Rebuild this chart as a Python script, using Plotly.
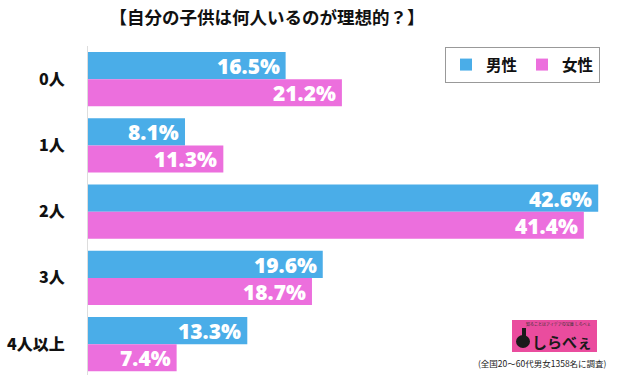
import plotly.graph_objects as go

categories = ["0人", "1人", "2人", "3人", "4人以上"]
male = [16.5, 8.1, 42.6, 19.6, 13.3]
female = [21.2, 11.3, 41.4, 18.7, 7.4]
series_names = ["男性", "女性"]
title_text = "【自分の子供は何人いるのが理想的？】"
source_text = "(全国20～60代男女1358名に調査)"

BLUE = "#4AADE8"
PINK = "#EC6FDD"
FONT = "Noto Sans CJK JP"
NUMFONT = "Open Sans"

L, R, T, B = 88, 12, 46, 0
W, H = 621, 375
PW, PH = W - L - R, H - T - B

def px(x):
    return (x - L) / PW

def py(y):
    return (H - B - y) / PH

fig = go.Figure()
for name, vals, col in [(series_names[0], male, BLUE), (series_names[1], female, PINK)]:
    fig.add_trace(go.Bar(
        y=categories, x=vals, name=name, orientation="h",
        marker=dict(color=col, line=dict(width=0)),
        textposition="none", hoverinfo="x+name",
    ))

# value labels (white, inside bar ends)
for vals, shift in [(male, 13), (female, -14)]:
    for c, v in zip(categories, vals):
        fig.add_annotation(x=v, y=c, text=f"{v:.1f}%", showarrow=False,
                           xanchor="right", yanchor="middle", xshift=-4, yshift=shift,
                           font=dict(family=NUMFONT, size=21, color="white", weight=800))

fig.update_layout(
    width=W, height=H,
    margin=dict(l=L, r=R, t=T, b=B),
    paper_bgcolor="white", plot_bgcolor="white",
    barmode="group", bargap=0.18, bargroupgap=0,
    font=dict(family=FONT, color="black"),
    title=dict(text=title_text, x=267 / W, xanchor="center", y=1 - 18 / H, yanchor="middle",
               font=dict(family=FONT, size=17.5, color="#111", weight="bold")),
    showlegend=True,
    legend=dict(orientation="h", x=px(600), xanchor="right", y=py(47), yanchor="top",
                bordercolor="#999", borderwidth=1, bgcolor="white",
                font=dict(family=FONT, size=15.5, color="#111", weight="bold"),
                traceorder="normal", itemwidth=30, tracegroupgap=0),
    xaxis=dict(range=[0, 43.5], visible=False, fixedrange=True, automargin=False),
    yaxis=dict(categoryorder="array", categoryarray=categories, automargin=False,
               range=[4.466, -0.5], showline=True, linecolor="#ddd", linewidth=1,
               ticks="", ticklabelstandoff=19,
               tickfont=dict(family=FONT, size=16, color="#111", weight=900)),
)

# logo
fig.add_shape(type="rect", xref="paper", yref="paper",
              x0=px(512), x1=px(597), y0=py(352), y1=py(320),
              fillcolor="#EA4C9E", line=dict(width=0), layer="above")
fig.add_shape(type="circle", xref="paper", yref="paper",
              x0=px(516), x1=px(530), y0=py(348), y1=py(335),
              fillcolor="#1a1a1a", line=dict(width=0), layer="above")
fig.add_shape(type="rect", xref="paper", yref="paper",
              x0=px(522), x1=px(526), y0=py(338), y1=py(328),
              fillcolor="#1a1a1a", line=dict(width=0), layer="above")
fig.add_annotation(xref="paper", yref="paper", x=px(558), y=py(324),
                   xanchor="center", yanchor="middle",
                   text="知ることはアイデアの宝庫 しらべぇ", showarrow=False,
                   font=dict(family=FONT, size=4, color="#333"))
fig.add_annotation(xref="paper", yref="paper", x=px(562), y=py(341),
                   xanchor="center", yanchor="middle",
                   text="<b>しらべぇ</b>", showarrow=False,
                   font=dict(family=FONT, size=15, color="#1a1a1a"))
fig.add_annotation(xref="paper", yref="paper", x=px(542), y=py(363),
                   xanchor="center", yanchor="middle",
                   text=source_text, showarrow=False,
                   font=dict(family=FONT, size=8.5, color="#222"))

fig.write_html("out.html", config={"displayModeBar": False},
               post_script="document.body.style.margin='0';document.body.style.overflow='hidden';")
